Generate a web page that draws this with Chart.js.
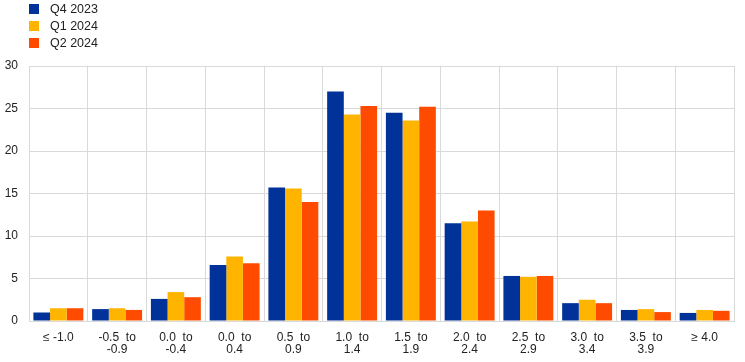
<!DOCTYPE html>
<html>
<head>
<meta charset="utf-8">
<script src="https://cdn.jsdelivr.net/npm/chart.js@4/dist/chart.umd.min.js"></script>
<style>
    html, body { margin: 0; padding: 0; background: #fff; }
    #wrap { position: relative; width: 745px; height: 362px; }
    #legend { position: absolute; left: 29px; top: 1px; font-family: "Liberation Sans", Arial, sans-serif; font-size: 12.5px; color: #222; }
    #legend div { height: 17px; line-height: 16px; white-space: nowrap; }
    #legend span.box { display: inline-block; width: 10px; height: 10px; margin-right: 11px; vertical-align: -1px; }
</style>
</head>
<body>
<div id="wrap">
    <canvas id="chart" width="745" height="362"></canvas>
    <div id="legend"></div>
</div>
<script>
    // --- DATOS ---
    const categories = [
        ['\u2264 -1.0'],
        ['-0.5  to', '-0.9'],
        ['0.0  to', '-0.4'],
        ['0.0  to', '0.4'],
        ['0.5  to', '0.9'],
        ['1.0  to', '1.4'],
        ['1.5  to', '1.9'],
        ['2.0  to', '2.4'],
        ['2.5  to', '2.9'],
        ['3.0  to', '3.4'],
        ['3.5  to', '3.9'],
        ['\u2265 4.0']
    ];
    const seriesNames = ['Q4 2023', 'Q1 2024', 'Q2 2024'];
    const q4_2023 = [1.0, 1.4, 2.6, 6.6, 15.7, 27.0, 24.5, 11.5, 5.3, 2.1, 1.3, 0.95];
    const q1_2024 = [1.5, 1.5, 3.4, 7.6, 15.6, 24.3, 23.6, 11.7, 5.2, 2.5, 1.4, 1.3];
    const q2_2024 = [1.5, 1.3, 2.8, 6.8, 14.0, 25.3, 25.2, 13.0, 5.3, 2.1, 1.05, 1.2];
    const yTicks = [0, 5, 10, 15, 20, 25, 30];

    const colors = ['#003299', '#FFB400', '#FF4B00'];
    const seriesData = [q4_2023, q1_2024, q2_2024];

    // --- LEYENDA ---
    const legendDiv = document.getElementById('legend');
    seriesNames.forEach((name, i) => {
        const row = document.createElement('div');
        row.innerHTML = `<span class="box" style="background:${colors[i]}"></span>${name}`;
        legendDiv.appendChild(row);
    });

    const fontFamily = '"Liberation Sans", Arial, sans-serif';

    new Chart(document.getElementById('chart'), {
        type: 'bar',
        data: {
            labels: categories,
            datasets: seriesNames.map((name, i) => ({
                label: name,
                data: seriesData[i],
                backgroundColor: colors[i],
                borderWidth: 0,
                categoryPercentage: 0.85,
                barPercentage: 1.0
            }))
        },
        options: {
            responsive: false,
            animation: false,
            layout: { padding: { top: 66, right: 11, left: 0, bottom: 0 } },
            plugins: {
                legend: { display: false },
                tooltip: { enabled: false }
            },
            scales: {
                x: {
                    grid: { color: '#d9d9d9', lineWidth: 1, drawTicks: false, offset: true },
                    border: { color: '#d9d9d9' },
                    ticks: {
                        color: '#222',
                        font: { family: fontFamily, size: 12, lineHeight: 1.0 },
                        padding: 11,
                        maxRotation: 0,
                        autoSkip: false
                    },
                    afterFit: (scale) => { scale.height = 41; }
                },
                y: {
                    min: 0,
                    max: 30,
                    afterBuildTicks: (scale) => { scale.ticks = yTicks.map(v => ({ value: v })); },
                    grid: { color: '#d9d9d9', lineWidth: 1, drawTicks: false },
                    border: { color: '#d9d9d9' },
                    ticks: {
                        color: '#222',
                        font: { family: fontFamily, size: 12 },
                        padding: 11
                    },
                    afterFit: (scale) => { scale.width = 29; }
                }
            }
        }
    });
</script>
</body>
</html>
